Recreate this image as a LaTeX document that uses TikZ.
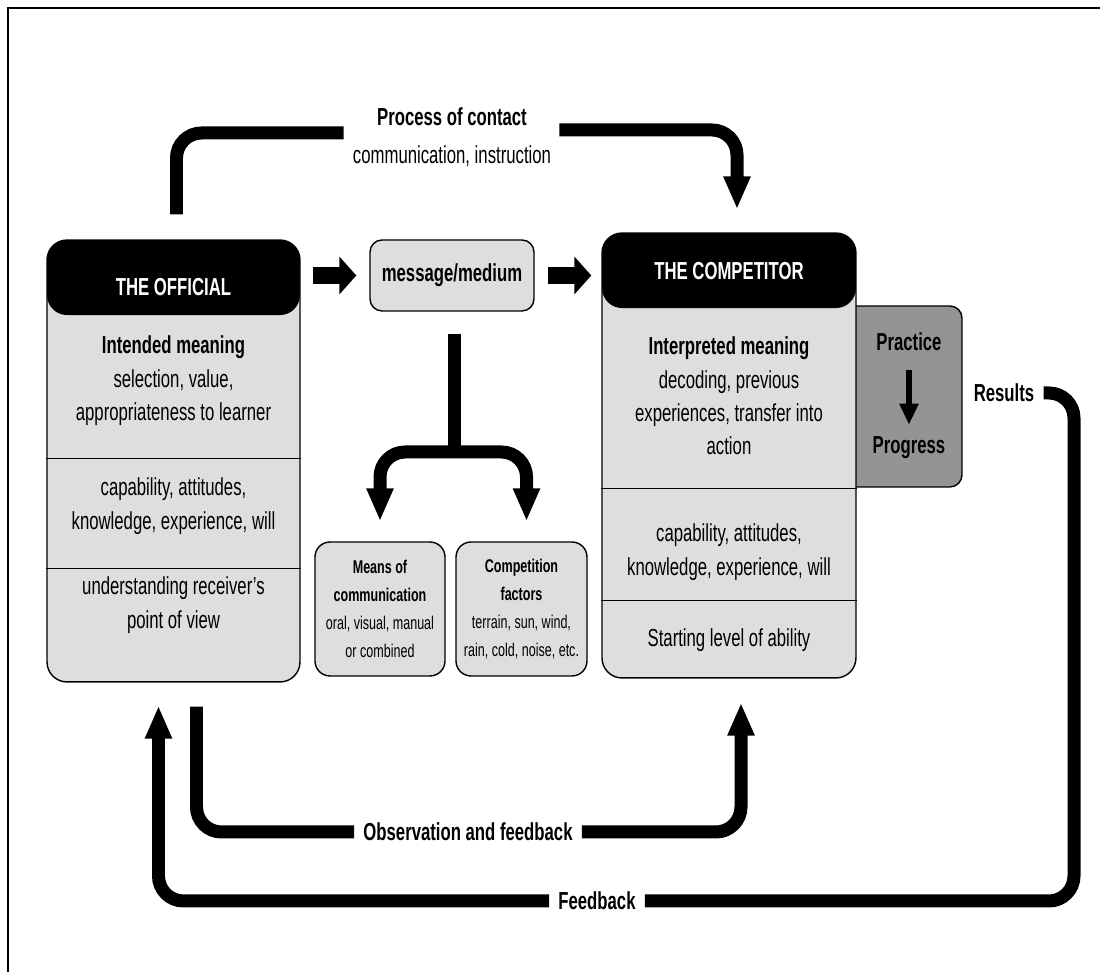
\documentclass[tikz,border=0pt]{standalone}
\usepackage{fontspec}
\setmainfont{Liberation Sans}[FakeStretch=0.68]
\usetikzlibrary{arrows.meta,calc}
\definecolor{boxgray}{gray}{0.87}
\definecolor{pracgray}{gray}{0.58}
\tikzset{
  panel/.style={draw, line width=0.8pt, fill=boxgray, rounded corners=0.4cm, inner sep=0pt},
  hdr/.style={path picture={\fill[black] (path picture bounding box.north west) rectangle ($(path picture bounding box.north east)+(0,#1)$);}},
  headtext/.style={text=white, font=\bfseries\fontsize{14}{17}\selectfont},
  bodytext/.style={align=center, font=\fontsize{14}{19}\selectfont},
  smalltext/.style={align=center, font=\fontsize{10.5}{16}\selectfont},
  barlabel/.style={font=\bfseries\fontsize{14}{17}\selectfont, inner sep=0.18cm},
  flowline/.style={line width=0.26cm, rounded corners=0.5cm},
  arrowhd/.style={-{Triangle[length=0.66cm,width=0.5cm]}},
  fatarrow/.style={line width=0.34cm, -{Triangle[length=0.34cm,width=0.74cm]}}
}

\begin{document}
\begin{tikzpicture}[x=0.02cm, y=-0.02cm]
  \useasboundingbox (0,0) rectangle (1100,972);
  \draw[line width=1.1pt] (8,972) -- (8,8) -- (1100,8);

  % the official
  \node[panel, hdr=75, minimum width=5.06cm, minimum height=8.84cm] (off) at (173.5,461) {};
  \node[headtext] (offhead) at (173.5,287) {THE OFFICIAL};
  \draw[line width=0.8pt] ($(off.north west)+(0,219)$) -- ($(off.north east)+(0,219)$);
  \draw[line width=0.8pt] ($(off.north west)+(0,329)$) -- ($(off.north east)+(0,329)$);
  \node[bodytext] (offmean) at (173.5,381) {\textbf{Intended meaning}\\selection, value,\\appropriateness to learner};
  \node[bodytext] (offcap) at (173.5,506) {capability, attitudes,\\knowledge, experience, will};
  \node[bodytext] (offview) at (173.5,605) {understanding receiver's\\point of view};

  % the competitor
  \node[panel, fill=pracgray, rounded corners=0.24cm, minimum width=2.54cm, minimum height=3.62cm] (prac) at (898.5,396.5) {};
  \node[font=\bfseries\fontsize{14}{17}\selectfont] (practxt) at (909,342) {Practice};
  \node[font=\bfseries\fontsize{14}{17}\selectfont] (progtxt) at (909,448) {Progress};
  \draw[line width=0.12cm, -{Triangle[length=0.42cm,width=0.36cm]}, shorten <=0.26cm, shorten >=0.12cm] (practxt.south) -- (progtxt.north);

  \node[panel, hdr=75, minimum width=5.08cm, minimum height=8.9cm] (comp) at (729,455.5) {};
  \node[headtext] (comphead) at (729,271) {THE COMPETITOR};
  \draw[line width=0.8pt] ($(comp.north west)+(0,256)$) -- ($(comp.north east)+(0,256)$);
  \draw[line width=0.8pt] ($(comp.north west)+(0,368)$) -- ($(comp.north east)+(0,368)$);
  \node[bodytext] (compmean) at (729,396) {\textbf{Interpreted meaning}\\decoding, previous\\experiences, transfer into\\action};
  \node[bodytext] (compcap) at (729,552) {capability, attitudes,\\knowledge, experience, will};
  \node[bodytext] (complevel) at (729,640) {Starting level of ability};

  % message and its factors
  \node[panel, rounded corners=0.24cm, minimum width=3.28cm, minimum height=1.42cm, font=\bfseries\fontsize{14}{17}\selectfont] (msg) at (452,275.5) {message/medium};
  \node[panel, smalltext, rounded corners=0.3cm, minimum width=2.6cm, minimum height=2.68cm] (means) at (380,609) {\textbf{Means of}\\\textbf{communication}\\oral, visual, manual\\or combined};
  \node[panel, smalltext, rounded corners=0.3cm, minimum width=2.62cm, minimum height=2.68cm] (factors) at (521.5,609) {\textbf{Competition}\\\textbf{factors}\\terrain, sun, wind,\\rain, cold, noise, etc.};

  \draw[fatarrow] ($(off.east |- msg.west)+(12,0)$) -- ($(msg.west)+(-13,0)$);
  \draw[fatarrow] ($(msg.east)+(13,0)$) -- ($(comp.west |- msg.east)+(-10,0)$);

  \coordinate (fork) at (454,452);
  \draw[flowline] ($(msg.south)+(2,22)$) -- (fork);
  \draw[flowline, arrowhd] (fork) -| ($(means.north)+(0,-20)$);
  \draw[flowline, arrowhd] (fork) -| ($(factors.north)+(5,-20)$);

  % loops
  \node[align=center, font=\fontsize{14}{22}\selectfont, inner sep=0.1cm] (proc) at (452,137) {\textbf{Process of contact}\\communication, instruction};
  \draw[flowline] ($(off.north)+(3,-25)$) |- ($(proc.west)+(-4,-4)$);
  \draw[flowline, arrowhd] ($(proc.east)+(3,-7)$) -| ($(comp.north)+(8,-23)$);

  \node[barlabel] (obs) at (468,832) {Observation and feedback};
  \draw[flowline] ($(off.south)+(23,24)$) |- (obs.west);
  \draw[flowline, arrowhd] (obs.east) -| ($(comp.south)+(12,24)$);

  \node[barlabel] (res) at (1004,393) {Results};
  \node[barlabel] (fb) at (597,901) {Feedback};
  \coordinate (fbturn) at (1074,901);
  \draw[flowline] (res.east) -| (fbturn) -- (fb.east);
  \draw[flowline, arrowhd] (fb.west) -| ($(off.south)+(-15,23)$);
\end{tikzpicture}
\end{document}
